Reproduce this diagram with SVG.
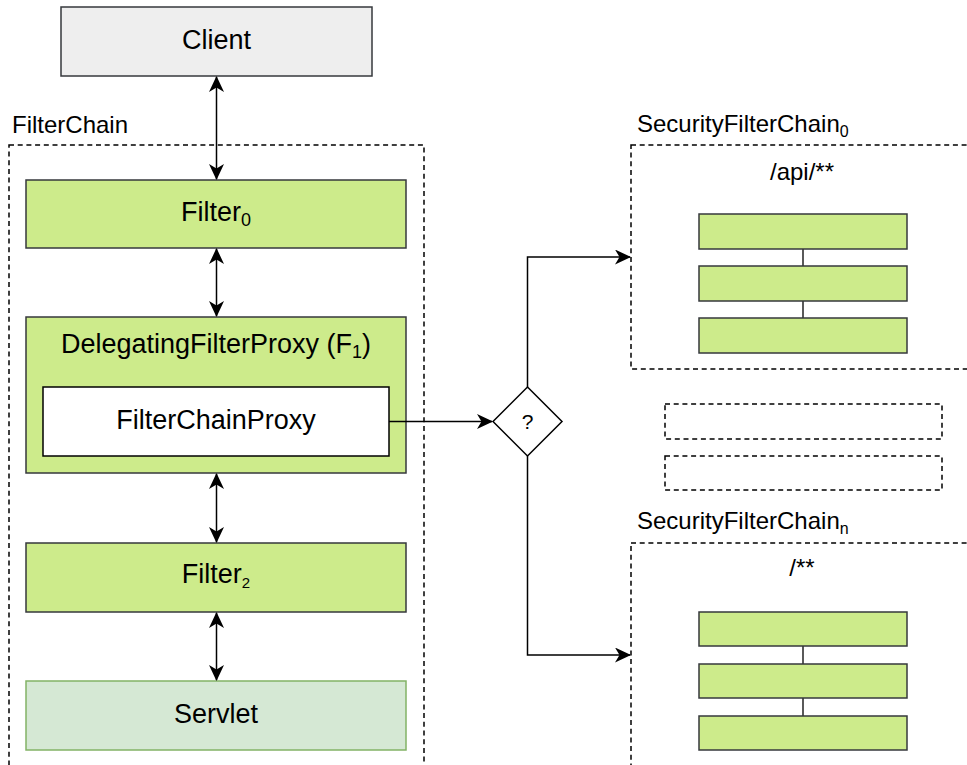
<svg xmlns="http://www.w3.org/2000/svg" width="967" height="765" viewBox="0 0 967 765">
<style>
text{font-family:"Liberation Sans",Arial,Helvetica,sans-serif;fill:#000}
.lbl{font-size:27px;text-anchor:middle}
.cap{font-size:24px}
.green{fill:#cdeb8b;stroke:#36393d;stroke-width:1.5}
.dash{fill:none;stroke:#000;stroke-width:1.5;stroke-dasharray:5 3.7}
.conn{fill:none;stroke:#000;stroke-width:1.5}
.thin{fill:none;stroke:#000;stroke-width:1.3}
</style>
<defs>
<marker id="ah" viewBox="0 0 16 15" markerWidth="16" markerHeight="15" refX="15" refY="7.5" orient="auto-start-reverse" markerUnits="userSpaceOnUse">
<path d="M0,0 L16,7.5 L0,15 L4.5,7.5 z" fill="#000"/>
</marker>
</defs>
<rect width="967" height="765" fill="#fff"/>

<g id="filterchain">
<rect class="dash" x="9" y="145" width="415" height="700"/>
<text class="cap" x="12" y="133">FilterChain</text>
</g>

<g id="client">
<rect x="61" y="7" width="311" height="69" fill="#eeeeee" stroke="#36393d" stroke-width="1.5"/>
<text class="lbl" x="216.5" y="49">Client</text>
</g>

<g id="filter0">
<rect class="green" x="26" y="180" width="380" height="68"/>
<text class="lbl" x="216" y="221">Filter<tspan font-size="18" dy="5">0</tspan></text>
</g>

<g id="delegating">
<rect class="green" x="26" y="317" width="380" height="156"/>
<text class="lbl" x="216" y="353">DelegatingFilterProxy (F<tspan font-size="18" dy="5">1</tspan><tspan dy="-5">)</tspan></text>
</g>

<g id="filterchainproxy">
<rect x="43" y="387" width="346" height="69" fill="#fff" stroke="#000" stroke-width="1.5"/>
<text class="lbl" x="216" y="429">FilterChainProxy</text>
</g>

<g id="filter2">
<rect class="green" x="26" y="543" width="380" height="69"/>
<text class="lbl" x="216" y="583">Filter<tspan font-size="15" dy="5">2</tspan></text>
</g>

<g id="servlet">
<rect x="26" y="681" width="380" height="69" fill="#d5e8d4" stroke="#82b366" stroke-width="1.5"/>
<text class="lbl" x="216" y="723">Servlet</text>
</g>

<g id="decision">
<path d="M527.5,387 L562,421.5 L527.5,456 L493,421.5 Z" fill="#fff" stroke="#000" stroke-width="1.5"/>
<text x="527.5" y="429" font-size="21" text-anchor="middle">?</text>
</g>

<g id="sfc0">
<rect class="dash" x="631" y="145" width="400" height="224"/>
<text class="cap" x="637" y="132">SecurityFilterChain<tspan font-size="16" dy="5">0</tspan></text>
<text class="cap" x="802" y="180" text-anchor="middle">/api/**</text>
<line class="thin" x1="803" y1="249" x2="803" y2="266"/>
<line class="thin" x1="803" y1="301" x2="803" y2="318"/>
<rect class="green" x="699" y="214" width="208" height="35"/>
<rect class="green" x="699" y="266" width="208" height="35"/>
<rect class="green" x="699" y="318" width="208" height="35"/>
</g>

<g id="placeholder1">
<rect class="dash" x="665" y="404" width="277" height="35"/>
</g>
<g id="placeholder2">
<rect class="dash" x="665" y="456" width="277" height="34"/>
</g>

<g id="sfcn">
<rect class="dash" x="631" y="543" width="400" height="300"/>
<text class="cap" x="637" y="529">SecurityFilterChain<tspan font-size="16" dy="5">n</tspan></text>
<text class="cap" x="802" y="576" text-anchor="middle">/**</text>
<line class="thin" x1="803" y1="646" x2="803" y2="664"/>
<line class="thin" x1="803" y1="698" x2="803" y2="716"/>
<rect class="green" x="699" y="612" width="208" height="34"/>
<rect class="green" x="699" y="664" width="208" height="34"/>
<rect class="green" x="699" y="716" width="208" height="34"/>
</g>

<g id="connectors">
<line class="conn" x1="216.5" y1="77" x2="216.5" y2="179" marker-start="url(#ah)" marker-end="url(#ah)"/>
<line class="conn" x1="216.5" y1="249" x2="216.5" y2="316" marker-start="url(#ah)" marker-end="url(#ah)"/>
<line class="conn" x1="216.5" y1="474" x2="216.5" y2="542" marker-start="url(#ah)" marker-end="url(#ah)"/>
<line class="conn" x1="216.5" y1="613" x2="216.5" y2="680" marker-start="url(#ah)" marker-end="url(#ah)"/>
<line class="conn" x1="389" y1="421.5" x2="492" y2="421.5" marker-end="url(#ah)"/>
<polyline class="conn" points="527.5,387 527.5,257 630,257" marker-end="url(#ah)"/>
<polyline class="conn" points="527.5,456 527.5,655 630,655" marker-end="url(#ah)"/>
</g>
</svg>
